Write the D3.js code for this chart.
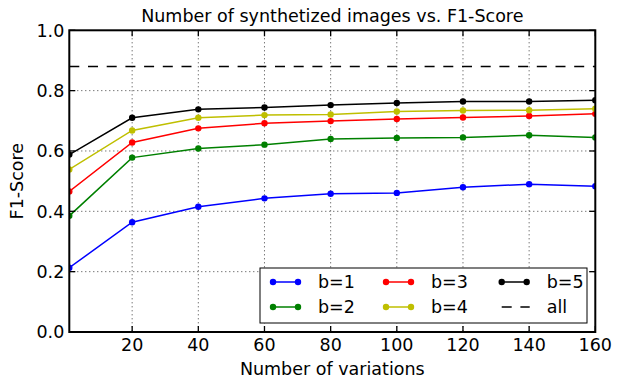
<!DOCTYPE html>
<html>
<head>
<meta charset="utf-8">
<script src="https://cdn.jsdelivr.net/npm/d3@7"></script>
<style>
  body { margin: 0; background: #fff; }
  svg text { font-family: "DejaVu Sans", sans-serif; fill: #000; }
</style>
</head>
<body>
<div id="chart"></div>
<script>
// values
const variations = [1, 20, 40, 60, 80, 100, 120, 140, 160];
const b1 = [0.213, 0.364, 0.415, 0.443, 0.458, 0.461, 0.480, 0.490, 0.483];
const b2 = [0.385, 0.578, 0.608, 0.621, 0.640, 0.643, 0.645, 0.652, 0.645];
const b3 = [0.466, 0.628, 0.675, 0.692, 0.699, 0.706, 0.711, 0.716, 0.723];
const b4 = [0.539, 0.668, 0.710, 0.719, 0.721, 0.731, 0.734, 0.735, 0.740];
const b5 = [0.588, 0.710, 0.738, 0.744, 0.752, 0.759, 0.764, 0.764, 0.768];
const allScore = 0.88;
const xTicks = [20, 40, 60, 80, 100, 120, 140, 160];
const yTicks = [0.0, 0.2, 0.4, 0.6, 0.8, 1.0];

const series = [
  {name: 'b=1', color: '#0000ff', values: b1},
  {name: 'b=2', color: '#008000', values: b2},
  {name: 'b=3', color: '#ff0000', values: b3},
  {name: 'b=4', color: '#bfbf00', values: b4},
  {name: 'b=5', color: '#000000', values: b5},
];

const FS = 17.5;
const width = 628, height = 381;
const margin = {left: 69.3, right: 32.7, top: 30.3, bottom: 49};
const w = width - margin.left - margin.right;
const h = height - margin.top - margin.bottom;

const svg = d3.select('#chart').append('svg')
  .attr('width', width).attr('height', height);

const X = d3.scaleLinear().domain([1, 160]).range([0, w]);
const Y = d3.scaleLinear().domain([0, 1]).range([h, 0]);

const g = svg.append('g').attr('transform', `translate(${margin.left},${margin.top})`);

g.append('clipPath').attr('id', 'clip')
  .append('rect').attr('width', w).attr('height', h);

// grid
const grid = g.append('g').attr('stroke', '#000').attr('stroke-width', 1)
  .attr('stroke-dasharray', '1,3').attr('opacity', 0.75);
grid.selectAll('.gx').data(xTicks.slice(0, -1)).join('line')
  .attr('x1', d => X(d)).attr('x2', d => X(d)).attr('y1', 0).attr('y2', h);
grid.selectAll('.gy').data(yTicks.slice(1, -1)).join('line')
  .attr('y1', d => Y(d)).attr('y2', d => Y(d)).attr('x1', 0).attr('x2', w);

const plot = g.append('g').attr('clip-path', 'url(#clip)');

// "all" reference
plot.append('line')
  .attr('x1', 0).attr('x2', w).attr('y1', Y(allScore)).attr('y2', Y(allScore))
  .attr('stroke', '#000').attr('stroke-width', 1.6).attr('stroke-dasharray', '10,8.7');

const line = d3.line().x((d, i) => X(variations[i])).y(d => Y(d));

series.forEach(s => {
  plot.append('path').datum(s.values)
    .attr('d', line).attr('fill', 'none')
    .attr('stroke', s.color).attr('stroke-width', 1.5);
  plot.selectAll(null).data(s.values).join('circle')
    .attr('cx', (d, i) => X(variations[i])).attr('cy', d => Y(d))
    .attr('r', 3.2).attr('fill', s.color);
});

// ticks inside on all sides
const ticks = g.append('g').attr('stroke', '#000').attr('stroke-width', 1.3);
xTicks.forEach(t => {
  ticks.append('line').attr('x1', X(t)).attr('x2', X(t)).attr('y1', h).attr('y2', h - 6);
  ticks.append('line').attr('x1', X(t)).attr('x2', X(t)).attr('y1', 0).attr('y2', 6);
});
yTicks.forEach(t => {
  ticks.append('line').attr('y1', Y(t)).attr('y2', Y(t)).attr('x1', 0).attr('x2', 6);
  ticks.append('line').attr('y1', Y(t)).attr('y2', Y(t)).attr('x1', w).attr('x2', w - 6);
});

// tick labels
g.selectAll('.xl').data(xTicks).join('text')
  .attr('x', d => X(d)).attr('y', h + 19.5).attr('text-anchor', 'middle')
  .attr('font-size', FS).text(d => d);
g.selectAll('.yl').data(yTicks).join('text')
  .attr('x', -5).attr('y', d => Y(d)).attr('dy', '0.36em').attr('text-anchor', 'end')
  .attr('font-size', FS).text(d => d.toFixed(1));

// legend
const lg = g.append('g').attr('transform', `translate(${260 - margin.left},${268 - margin.top})`);
lg.append('rect').attr('width', 327).attr('height', 55)
  .attr('fill', '#fff').attr('stroke', '#000').attr('stroke-width', 1);
const legendItems = series.map(s => ({name: s.name, color: s.color, dashed: false}))
  .concat([{name: 'all', color: '#000', dashed: true}]);
const colX = [13, 126, 241.7];
const rowY = [14, 39];
legendItems.forEach((d, i) => {
  const cx = colX[Math.floor(i / 2)], cy = rowY[i % 2];
  const item = lg.append('g').attr('transform', `translate(${cx},${cy})`);
  if (d.dashed) {
    item.append('line').attr('x1', 0).attr('x2', 28).attr('stroke', '#000')
      .attr('stroke-width', 1.6).attr('stroke-dasharray', '10,8.7');
  } else {
    item.append('line').attr('x1', 0).attr('x2', 25).attr('stroke', d.color).attr('stroke-width', 1.5);
    item.selectAll('circle').data([0, 25]).join('circle')
      .attr('cx', v => v).attr('r', 3.2).attr('fill', d.color);
  }
  item.append('text').attr('x', 45).attr('dy', '0.36em').attr('font-size', FS).text(d.name);
});

// frame
g.append('rect').attr('width', w).attr('height', h)
  .attr('fill', 'none').attr('stroke', '#000').attr('stroke-width', 2);

// titles
svg.append('text').attr('x', margin.left + w / 2).attr('y', 22)
  .attr('text-anchor', 'middle').attr('font-size', FS)
  .text('Number of synthetized images vs. F1-Score');
svg.append('text').attr('x', margin.left + w / 2).attr('y', 375)
  .attr('text-anchor', 'middle').attr('font-size', FS).text('Number of variations');
svg.append('text')
  .attr('transform', `translate(23,${margin.top + h / 2}) rotate(-90)`)
  .attr('text-anchor', 'middle').attr('font-size', FS).text('F1-Score');
</script>
</body>
</html>
